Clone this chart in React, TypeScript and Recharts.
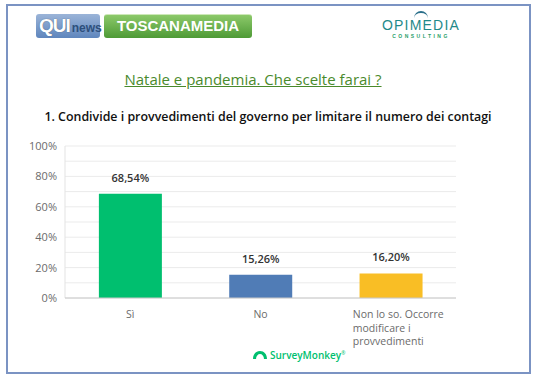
import { BarChart, Bar, XAxis, YAxis, CartesianGrid, Cell, LabelList } from "recharts";

const categories = ["Sì", "No", "Non lo so. Occorre modificare i provvedimenti"];
const categoryLines = [["Sì"], ["No"], ["Non lo so. Occorre", "modificare i", "provvedimenti"]];
const values = [68.54, 15.26, 16.2];
const colors = ["#00bf6f", "#507cb6", "#f9be25"];
const yTicks = [0, 10, 20, 30, 40, 50, 60, 70, 80, 90, 100];

const data = categories.map((c, i) => ({ name: c, value: values[i], idx: i }));

const FONT = "'Open Sans', 'Noto Sans', sans-serif";

function YTick(props: any) {
  const { x, y, payload } = props;
  if (payload.value % 20 !== 0) return null;
  return (
    <text x={x} y={y} dy={4} textAnchor="end" fontSize={11} fill="#6b6b6b" fontFamily={FONT}>
      {payload.value}%
    </text>
  );
}

function XTick(props: any) {
  const { x, y, payload } = props;
  const idx = categories.indexOf(payload.value);
  const lines = categoryLines[idx] || [payload.value];
  const multi = lines.length > 1;
  return (
    <text
      x={multi ? x - 38 : x}
      y={y + 12}
      textAnchor={multi ? "start" : "middle"}
      fontSize={10.5}
      fill="#6b6b6b"
      fontFamily={FONT}
    >
      {lines.map((l, i) => (
        <tspan key={i} x={multi ? x - 38 : x} dy={i === 0 ? 0 : 13.5}>
          {l}
        </tspan>
      ))}
    </text>
  );
}

const fmt = (v: any) => Number(v).toFixed(2).replace(".", ",") + "%";

export default function App() {
  return (
    <div style={{ position: "absolute", left: 0, top: 0, width: 536, height: 380, background: "#fff", overflow: "hidden" }}>
      <div style={{ position: "absolute", left: 6, top: 4, width: 521, height: 366, border: "2px solid #7b93c3" }} />

      {/* QUI news logo */}
      <div style={{
        position: "absolute", left: 36, top: 14, width: 64, height: 24, borderRadius: 3,
        background: "linear-gradient(#9bb4d8, #5f86bd)", display: "flex", alignItems: "center", paddingLeft: 3,
        boxSizing: "border-box", fontFamily: "'Liberation Sans', sans-serif",
      }}>
        <span style={{ color: "#fff", fontWeight: 900, fontSize: 19, letterSpacing: -1, textShadow: "0 0 1px #456" }}>QUI</span>
        <span style={{ color: "#2d4f7c", fontWeight: 700, fontSize: 12, marginLeft: 2, marginTop: 3 }}>news</span>
      </div>
      {/* TOSCANAMEDIA logo */}
      <div style={{
        position: "absolute", left: 104, top: 14, width: 148, height: 24, borderRadius: 3,
        background: "linear-gradient(#8cc96a, #4e9a36)", fontFamily: "'Liberation Sans', sans-serif",
        color: "#fff", fontWeight: 900, fontSize: 15, textAlign: "center", lineHeight: "22px",
        borderTop: "1px solid #cde8b8", boxSizing: "border-box",
      }}>
        TOSCANAMEDIA
      </div>
      {/* OPIMEDIA logo */}
      <div style={{ position: "absolute", left: 378, top: 11, width: 86, height: 26, fontFamily: "'Liberation Sans', sans-serif", textAlign: "center" }}>
        <div style={{ position: "absolute", left: 36, top: 0, width: 14, height: 7, borderTop: "2px solid #2a6f8a", borderRadius: "10px 10px 0 0" }} />
        <div style={{ position: "absolute", left: 0, top: 6, width: 86, fontSize: 14, color: "#1f8a8a", letterSpacing: 1.2 }}>OPIMEDIA</div>
        <div style={{ position: "absolute", left: 0, top: 22, width: 86, fontSize: 5, color: "#2aa06a", letterSpacing: 2.5, fontWeight: 700 }}>CONSULTING</div>
      </div>

      <div style={{
        position: "absolute", left: 0, top: 69, width: 506, textAlign: "center",
        fontFamily: "'Open Sans', sans-serif", fontSize: 15, color: "#4a8a2c", textDecoration: "underline",
      }}>
        Natale e pandemia. Che scelte farai ?
      </div>
      <div style={{
        position: "absolute", left: 0, top: 108, width: 536, textAlign: "center",
        fontFamily: "'Open Sans', sans-serif", fontSize: 12.4, fontWeight: 600, color: "#111",
      }}>
        1. Condivide i provvedimenti del governo per limitare il numero dei contagi
      </div>

      <div style={{ position: "absolute", left: 0, top: 130 }}>
        <BarChart
          width={536}
          height={250}
          data={data}
          margin={{ top: 16, right: 80, left: 20, bottom: 32 }}
          barCategoryGap="26%"
        >
          <CartesianGrid vertical={false} stroke="#ebebeb" />
          <YAxis
            domain={[0, 100]}
            ticks={yTicks}
            interval={0}
            width={45}
            tick={<YTick />}
            axisLine={{ stroke: "#e3e3e3" }}
            tickLine={false}
          />
          <XAxis
            dataKey="name"
            height={50}
            interval={0}
            tick={<XTick />}
            axisLine={{ stroke: "#c8c8c8" }}
            tickLine={false}
          />
          <Bar dataKey="value" isAnimationActive={false}>
            {data.map((_, i) => (
              <Cell key={i} fill={colors[i]} />
            ))}
            <LabelList
              dataKey="value"
              position="top"
              offset={12}
              formatter={fmt}
              style={{ fontSize: 11, fill: "#333", fontWeight: 600, fontFamily: FONT }}
            />
          </Bar>
        </BarChart>
      </div>

      {/* SurveyMonkey mark */}
      <div style={{ position: "absolute", left: 252, top: 348, display: "flex", alignItems: "center", fontFamily: FONT }}>
        <svg width="16" height="10" viewBox="0 0 16 10">
          <path d="M1 9 C1 4 4 1 8 1 C12 1 15 4 15 9 L12 9 C12 6 10 4 8 4 C6 4 4 6 4 9 Z" fill="#00bf6f" />
        </svg>
        <span style={{ color: "#00bf6f", fontSize: 10, fontWeight: 600, marginLeft: 2 }}>SurveyMonkey</span>
        <span style={{ color: "#00bf6f", fontSize: 5, marginTop: -4 }}>®</span>
      </div>
    </div>
  );
}
